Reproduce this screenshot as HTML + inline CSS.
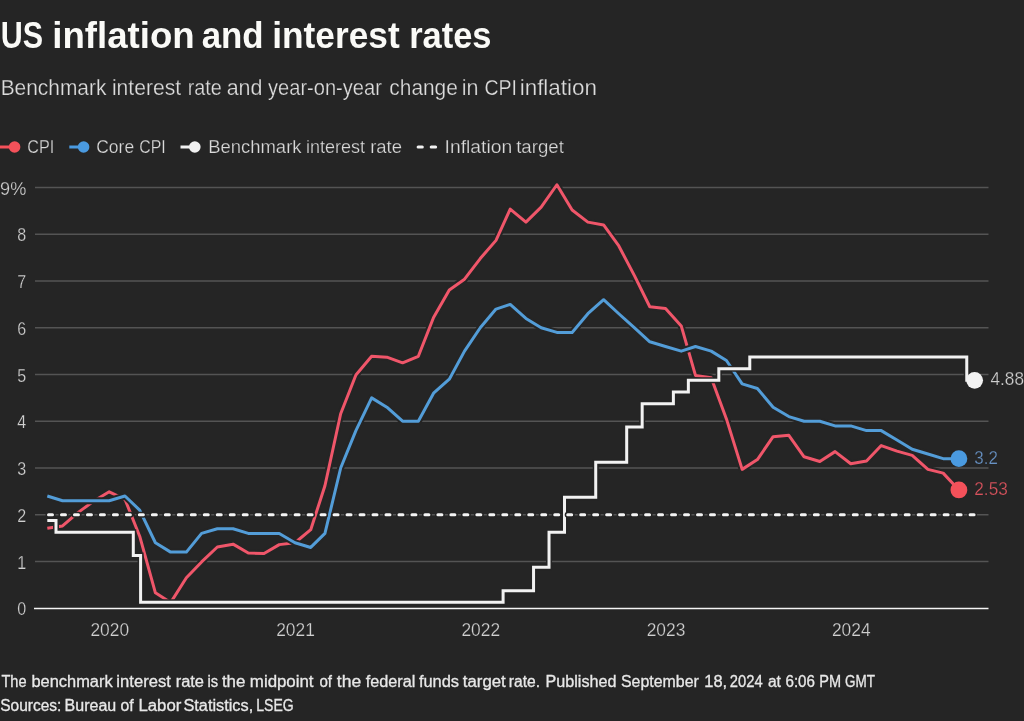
<!DOCTYPE html>
<html><head><meta charset="utf-8"><style>
html,body{margin:0;padding:0;background:#252525;}
body{width:1024px;height:721px;overflow:hidden;}
svg{display:block;filter:blur(0.35px);font-family:"Liberation Sans", sans-serif;}
.tick{font-size:18.5px;fill:#d0d0d0;stroke:#252525;stroke-width:0.25px;}
.end{font-size:18.8px;stroke:#252525;stroke-width:0.25px;}
.leg{font-size:18px;fill:#dadada;stroke:#252525;stroke-width:0.25px;}
.title{font-size:37px;font-weight:bold;fill:#fafaf7;}
.sub{font-size:21.5px;fill:#dcdcdc;stroke:#252525;stroke-width:0.25px;}
.foot{font-size:16px;fill:#e8e8e8;stroke:#e8e8e8;stroke-width:0.3px;}
</style></head><body>
<svg width="1024" height="721" viewBox="0 0 1024 721">
<rect width="1024" height="721" fill="#252525"/>
<text x="0.85" y="47.70" class="title" textLength="42.30" lengthAdjust="spacingAndGlyphs">US</text>
<text x="52.22" y="47.70" class="title" textLength="142.54" lengthAdjust="spacingAndGlyphs">inflation</text>
<text x="201.66" y="47.70" class="title" textLength="62.02" lengthAdjust="spacingAndGlyphs">and</text>
<text x="272.29" y="47.70" class="title" textLength="127.38" lengthAdjust="spacingAndGlyphs">interest</text>
<text x="409.14" y="47.70" class="title" textLength="82.42" lengthAdjust="spacingAndGlyphs">rates</text>
<text x="0.63" y="95.20" class="sub" textLength="105.73" lengthAdjust="spacingAndGlyphs">Benchmark</text>
<text x="111.92" y="95.20" class="sub" textLength="69.21" lengthAdjust="spacingAndGlyphs">interest</text>
<text x="187.68" y="95.20" class="sub" textLength="34.10" lengthAdjust="spacingAndGlyphs">rate</text>
<text x="226.70" y="95.20" class="sub" textLength="35.77" lengthAdjust="spacingAndGlyphs">and</text>
<text x="268.00" y="95.20" class="sub" textLength="113.90" lengthAdjust="spacingAndGlyphs">year-on-year</text>
<text x="389.33" y="95.20" class="sub" textLength="68.50" lengthAdjust="spacingAndGlyphs">change</text>
<text x="461.70" y="95.20" class="sub" textLength="16.73" lengthAdjust="spacingAndGlyphs">in</text>
<text x="484.39" y="95.20" class="sub" textLength="32.59" lengthAdjust="spacingAndGlyphs">CPI</text>
<text x="519.66" y="95.20" class="sub" textLength="77.40" lengthAdjust="spacingAndGlyphs">inflation</text>
<line x1="0" x2="14" y1="147" y2="147" stroke="#f4515a" stroke-width="3"/>
<circle cx="14.6" cy="147" r="5.8" fill="#f4515a"/>
<line x1="69.3" x2="83" y1="147" y2="147" stroke="#4a9ae0" stroke-width="3"/>
<circle cx="83.6" cy="147" r="5.8" fill="#4a9ae0"/>
<line x1="180.5" x2="194" y1="147" y2="147" stroke="#f2f2f2" stroke-width="3"/>
<circle cx="194.8" cy="147" r="5.8" fill="#f2f2f2"/>
<line x1="418.1" x2="422.3" y1="147" y2="147" stroke="#f2f2f2" stroke-width="3" stroke-linecap="round"/>
<line x1="431.2" x2="435.6" y1="147" y2="147" stroke="#f2f2f2" stroke-width="3" stroke-linecap="round"/>
<text x="27.20" y="152.50" class="leg" textLength="27.01" lengthAdjust="spacingAndGlyphs">CPI</text>
<text x="96.23" y="152.50" class="leg" textLength="37.89" lengthAdjust="spacingAndGlyphs">Core</text>
<text x="139.32" y="152.50" class="leg" textLength="26.48" lengthAdjust="spacingAndGlyphs">CPI</text>
<text x="208.17" y="152.50" class="leg" textLength="93.37" lengthAdjust="spacingAndGlyphs">Benchmark</text>
<text x="306.00" y="152.50" class="leg" textLength="59.13" lengthAdjust="spacingAndGlyphs">interest</text>
<text x="370.17" y="152.50" class="leg" textLength="31.86" lengthAdjust="spacingAndGlyphs">rate</text>
<text x="444.63" y="152.50" class="leg" textLength="67.59" lengthAdjust="spacingAndGlyphs">Inflation</text>
<text x="516.20" y="152.50" class="leg" textLength="47.63" lengthAdjust="spacingAndGlyphs">target</text>
<line x1="35" x2="988.5" y1="561.46" y2="561.46" stroke="#545454" stroke-width="1.6"/>
<line x1="35" x2="988.5" y1="514.72" y2="514.72" stroke="#545454" stroke-width="1.6"/>
<line x1="35" x2="988.5" y1="467.98" y2="467.98" stroke="#545454" stroke-width="1.6"/>
<line x1="35" x2="988.5" y1="421.24" y2="421.24" stroke="#545454" stroke-width="1.6"/>
<line x1="35" x2="988.5" y1="374.50" y2="374.50" stroke="#545454" stroke-width="1.6"/>
<line x1="35" x2="988.5" y1="327.76" y2="327.76" stroke="#545454" stroke-width="1.6"/>
<line x1="35" x2="988.5" y1="281.02" y2="281.02" stroke="#545454" stroke-width="1.6"/>
<line x1="35" x2="988.5" y1="234.28" y2="234.28" stroke="#545454" stroke-width="1.6"/>
<line x1="35" x2="988.5" y1="187.54" y2="187.54" stroke="#545454" stroke-width="1.6"/>
<text x="26.3" y="608.90" text-anchor="end" dominant-baseline="central" class="tick" textLength="8.95" lengthAdjust="spacingAndGlyphs">0</text>
<text x="26.3" y="562.16" text-anchor="end" dominant-baseline="central" class="tick" textLength="8.95" lengthAdjust="spacingAndGlyphs">1</text>
<text x="26.3" y="515.42" text-anchor="end" dominant-baseline="central" class="tick" textLength="8.95" lengthAdjust="spacingAndGlyphs">2</text>
<text x="26.3" y="468.68" text-anchor="end" dominant-baseline="central" class="tick" textLength="8.95" lengthAdjust="spacingAndGlyphs">3</text>
<text x="26.3" y="421.94" text-anchor="end" dominant-baseline="central" class="tick" textLength="8.95" lengthAdjust="spacingAndGlyphs">4</text>
<text x="26.3" y="375.20" text-anchor="end" dominant-baseline="central" class="tick" textLength="8.95" lengthAdjust="spacingAndGlyphs">5</text>
<text x="26.3" y="328.46" text-anchor="end" dominant-baseline="central" class="tick" textLength="8.95" lengthAdjust="spacingAndGlyphs">6</text>
<text x="26.3" y="281.72" text-anchor="end" dominant-baseline="central" class="tick" textLength="8.95" lengthAdjust="spacingAndGlyphs">7</text>
<text x="26.3" y="234.98" text-anchor="end" dominant-baseline="central" class="tick" textLength="8.95" lengthAdjust="spacingAndGlyphs">8</text>
<text x="26.3" y="188.24" text-anchor="end" dominant-baseline="central" class="tick" textLength="26.20" lengthAdjust="spacingAndGlyphs">9%</text>
<text x="109.72" y="636.3" text-anchor="middle" class="tick" textLength="38.68" lengthAdjust="spacingAndGlyphs">2020</text>
<text x="295.49" y="636.3" text-anchor="middle" class="tick" textLength="38.68" lengthAdjust="spacingAndGlyphs">2021</text>
<text x="480.76" y="636.3" text-anchor="middle" class="tick" textLength="38.68" lengthAdjust="spacingAndGlyphs">2022</text>
<text x="666.02" y="636.3" text-anchor="middle" class="tick" textLength="38.68" lengthAdjust="spacingAndGlyphs">2023</text>
<text x="851.28" y="636.3" text-anchor="middle" class="tick" textLength="38.68" lengthAdjust="spacingAndGlyphs">2024</text>
<line x1="34" x2="988.5" y1="608.5" y2="608.5" stroke="#f4f4f4" stroke-width="1.5"/>
<path d="M47.30,528.27 L62.53,525.94 L78.26,512.38 L93.49,501.17 L109.22,491.82 L124.96,499.30 L139.68,536.22 L155.41,592.78 L170.64,602.59 L186.37,577.82 L201.60,561.93 L217.34,546.97 L233.07,544.17 L248.30,553.05 L264.03,553.51 L279.26,544.63 L294.99,542.76 L310.73,529.68 L324.94,485.74 L340.68,413.76 L355.90,374.97 L371.64,356.27 L386.86,357.21 L402.60,362.82 L418.33,356.27 L433.56,317.48 L449.30,289.90 L464.52,279.15 L480.26,258.58 L495.99,240.36 L510.20,209.04 L525.94,222.13 L541.17,207.17 L556.90,184.74 L572.13,209.98 L587.86,222.13 L603.60,224.93 L618.82,245.97 L634.56,275.88 L649.79,306.73 L665.52,308.60 L681.25,325.89 L695.47,375.43 L711.20,377.77 L726.43,418.90 L742.16,469.38 L757.39,459.57 L773.13,436.66 L788.86,435.26 L804.09,456.76 L819.82,461.44 L835.05,451.62 L850.78,463.77 L866.52,460.97 L881.24,445.54 L896.97,451.15 L912.20,455.36 L927.93,469.38 L943.16,473.12 L958.90,489.95" fill="none" stroke="#252525" stroke-width="7" stroke-linejoin="round"/>
<path d="M47.30,528.27 L62.53,525.94 L78.26,512.38 L93.49,501.17 L109.22,491.82 L124.96,499.30 L139.68,536.22 L155.41,592.78 L170.64,602.59 L186.37,577.82 L201.60,561.93 L217.34,546.97 L233.07,544.17 L248.30,553.05 L264.03,553.51 L279.26,544.63 L294.99,542.76 L310.73,529.68 L324.94,485.74 L340.68,413.76 L355.90,374.97 L371.64,356.27 L386.86,357.21 L402.60,362.82 L418.33,356.27 L433.56,317.48 L449.30,289.90 L464.52,279.15 L480.26,258.58 L495.99,240.36 L510.20,209.04 L525.94,222.13 L541.17,207.17 L556.90,184.74 L572.13,209.98 L587.86,222.13 L603.60,224.93 L618.82,245.97 L634.56,275.88 L649.79,306.73 L665.52,308.60 L681.25,325.89 L695.47,375.43 L711.20,377.77 L726.43,418.90 L742.16,469.38 L757.39,459.57 L773.13,436.66 L788.86,435.26 L804.09,456.76 L819.82,461.44 L835.05,451.62 L850.78,463.77 L866.52,460.97 L881.24,445.54 L896.97,451.15 L912.20,455.36 L927.93,469.38 L943.16,473.12 L958.90,489.95" fill="none" stroke="#f0566a" stroke-width="3" stroke-linejoin="round"/>
<path d="M47.30,496.02 L62.53,500.70 L78.26,500.70 L93.49,500.70 L109.22,500.70 L124.96,496.02 L139.68,510.05 L155.41,542.76 L170.64,552.11 L186.37,552.11 L201.60,533.42 L217.34,528.74 L233.07,528.74 L248.30,533.42 L264.03,533.42 L279.26,533.42 L294.99,542.76 L310.73,547.44 L324.94,533.42 L340.68,467.98 L355.90,430.59 L371.64,397.87 L386.86,407.22 L402.60,421.24 L418.33,421.24 L433.56,393.20 L449.30,379.17 L464.52,351.13 L480.26,327.76 L495.99,309.06 L510.20,304.39 L525.94,318.41 L541.17,327.76 L556.90,332.43 L572.13,332.43 L587.86,313.74 L603.60,299.72 L618.82,313.74 L634.56,327.76 L649.79,341.78 L665.52,346.46 L681.25,351.13 L695.47,346.46 L711.20,351.13 L726.43,360.48 L742.16,383.85 L757.39,388.52 L773.13,407.22 L788.86,416.57 L804.09,421.24 L819.82,421.24 L835.05,425.91 L850.78,425.91 L866.52,430.59 L881.24,430.59 L896.97,439.94 L912.20,449.28 L927.93,453.96 L943.16,458.63 L958.90,458.63" fill="none" stroke="#252525" stroke-width="7" stroke-linejoin="round"/>
<path d="M47.30,496.02 L62.53,500.70 L78.26,500.70 L93.49,500.70 L109.22,500.70 L124.96,496.02 L139.68,510.05 L155.41,542.76 L170.64,552.11 L186.37,552.11 L201.60,533.42 L217.34,528.74 L233.07,528.74 L248.30,533.42 L264.03,533.42 L279.26,533.42 L294.99,542.76 L310.73,547.44 L324.94,533.42 L340.68,467.98 L355.90,430.59 L371.64,397.87 L386.86,407.22 L402.60,421.24 L418.33,421.24 L433.56,393.20 L449.30,379.17 L464.52,351.13 L480.26,327.76 L495.99,309.06 L510.20,304.39 L525.94,318.41 L541.17,327.76 L556.90,332.43 L572.13,332.43 L587.86,313.74 L603.60,299.72 L618.82,313.74 L634.56,327.76 L649.79,341.78 L665.52,346.46 L681.25,351.13 L695.47,346.46 L711.20,351.13 L726.43,360.48 L742.16,383.85 L757.39,388.52 L773.13,407.22 L788.86,416.57 L804.09,421.24 L819.82,421.24 L835.05,425.91 L850.78,425.91 L866.52,430.59 L881.24,430.59 L896.97,439.94 L912.20,449.28 L927.93,453.96 L943.16,458.63 L958.90,458.63" fill="none" stroke="#539dd8" stroke-width="3" stroke-linejoin="round"/>
<path d="M47.30,520.56 H56.00 V532.25 H133.30 V555.62 H140.60 V602.36 H503.10 V590.67 H533.55 V567.30 H549.03 V532.25 H564.51 V497.19 H595.73 V462.14 H626.69 V427.08 H642.17 V403.71 H673.39 V392.03 H688.36 V380.34 H718.82 V368.66 H749.78 V356.97 H966.76 V380.34 H974.63" fill="none" stroke="#252525" stroke-width="6"/>
<path d="M47.30,520.56 H56.00 V532.25 H133.30 V555.62 H140.60 V602.36 H503.10 V590.67 H533.55 V567.30 H549.03 V532.25 H564.51 V497.19 H595.73 V462.14 H626.69 V427.08 H642.17 V403.71 H673.39 V392.03 H688.36 V380.34 H718.82 V368.66 H749.78 V356.97 H966.76 V380.34 H974.63" fill="none" stroke="#f2f2f2" stroke-width="3"/>
<line x1="48.5" x2="974.63" y1="514.72" y2="514.72" stroke="#252525" stroke-width="6" stroke-linecap="round" stroke-dasharray="4 8.98"/>
<line x1="48.5" x2="974.63" y1="514.72" y2="514.72" stroke="#f4f4f4" stroke-width="3" stroke-linecap="round" stroke-dasharray="4 8.98"/>
<circle cx="958.90" cy="489.95" r="8.4" fill="#f4515a"/>
<circle cx="958.90" cy="458.63" r="8.4" fill="#4a9ae0"/>
<circle cx="974.63" cy="380.34" r="8.4" fill="#f2f2f2"/>
<text x="990.5" y="385.34" class="end" fill="#cfcfcf" textLength="33.5" lengthAdjust="spacingAndGlyphs">4.88</text>
<text x="974.3" y="463.63" class="end" fill="#6892c4" textLength="23.5" lengthAdjust="spacingAndGlyphs">3.2</text>
<text x="974.3" y="494.95" class="end" fill="#d8535d" textLength="33.5" lengthAdjust="spacingAndGlyphs">2.53</text>
<text x="1.40" y="686.50" class="foot" textLength="25.13" lengthAdjust="spacingAndGlyphs">The</text>
<text x="31.47" y="686.50" class="foot" textLength="81.19" lengthAdjust="spacingAndGlyphs">benchmark</text>
<text x="116.36" y="686.50" class="foot" textLength="54.49" lengthAdjust="spacingAndGlyphs">interest</text>
<text x="175.67" y="686.50" class="foot" textLength="28.32" lengthAdjust="spacingAndGlyphs">rate</text>
<text x="207.38" y="686.50" class="foot" textLength="10.64" lengthAdjust="spacingAndGlyphs">is</text>
<text x="221.90" y="686.50" class="foot" textLength="23.56" lengthAdjust="spacingAndGlyphs">the</text>
<text x="249.85" y="686.50" class="foot" textLength="63.71" lengthAdjust="spacingAndGlyphs">midpoint</text>
<text x="319.40" y="686.50" class="foot" textLength="12.58" lengthAdjust="spacingAndGlyphs">of</text>
<text x="336.80" y="686.50" class="foot" textLength="24.37" lengthAdjust="spacingAndGlyphs">the</text>
<text x="365.70" y="686.50" class="foot" textLength="49.64" lengthAdjust="spacingAndGlyphs">federal</text>
<text x="418.90" y="686.50" class="foot" textLength="40.14" lengthAdjust="spacingAndGlyphs">funds</text>
<text x="462.80" y="686.50" class="foot" textLength="42.92" lengthAdjust="spacingAndGlyphs">target</text>
<text x="508.82" y="686.50" class="foot" textLength="31.27" lengthAdjust="spacingAndGlyphs">rate.</text>
<text x="545.49" y="686.50" class="foot" textLength="70.99" lengthAdjust="spacingAndGlyphs">Published</text>
<text x="621.01" y="686.50" class="foot" textLength="77.76" lengthAdjust="spacingAndGlyphs">September</text>
<text x="704.38" y="686.50" class="foot" textLength="22.81" lengthAdjust="spacingAndGlyphs">18,</text>
<text x="729.80" y="686.50" class="foot" textLength="32.83" lengthAdjust="spacingAndGlyphs">2024</text>
<text x="767.90" y="686.50" class="foot" textLength="13.06" lengthAdjust="spacingAndGlyphs">at</text>
<text x="785.50" y="686.50" class="foot" textLength="29.43" lengthAdjust="spacingAndGlyphs">6:06</text>
<text x="819.29" y="686.50" class="foot" textLength="21.82" lengthAdjust="spacingAndGlyphs">PM</text>
<text x="845.00" y="686.50" class="foot" textLength="29.92" lengthAdjust="spacingAndGlyphs">GMT</text>
<text x="0.28" y="710.80" class="foot" textLength="61.02" lengthAdjust="spacingAndGlyphs">Sources:</text>
<text x="64.60" y="710.80" class="foot" textLength="51.59" lengthAdjust="spacingAndGlyphs">Bureau</text>
<text x="120.60" y="710.80" class="foot" textLength="13.15" lengthAdjust="spacingAndGlyphs">of</text>
<text x="138.45" y="710.80" class="foot" textLength="42.87" lengthAdjust="spacingAndGlyphs">Labor</text>
<text x="183.48" y="710.80" class="foot" textLength="69.71" lengthAdjust="spacingAndGlyphs">Statistics,</text>
<text x="256.32" y="710.80" class="foot" textLength="37.38" lengthAdjust="spacingAndGlyphs">LSEG</text>
</svg>
</body></html>
